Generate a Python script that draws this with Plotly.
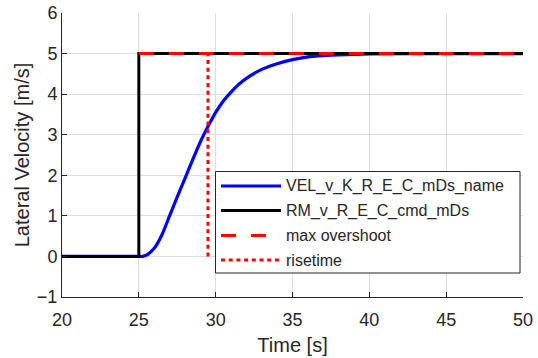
import plotly.graph_objects as go

# ---- data ----
vel_t = [20, 25, 25.25, 25.5, 26, 26.5, 27, 27.5, 28, 28.5, 29, 29.5, 30, 30.5, 31,
         31.5, 32, 33, 34, 35, 36, 37, 38, 40, 45, 50]
vel_y = [0, 0, 0, 0.03, 0.2, 0.53, 1.0, 1.47, 1.92, 2.38, 2.82, 3.2, 3.55, 3.83, 4.05,
         4.24, 4.39, 4.61, 4.75, 4.85, 4.92, 4.95, 4.97, 4.99, 5.0, 5.0]

cmd_t = [20, 25, 25, 50]
cmd_y = [0, 0, 5, 5]

overshoot_t = [25, 50]
overshoot_y = [5, 5]

rise_t = [29.5, 29.5]
rise_y = [0, 5]

series_names = ["VEL_v_K_R_E_C_mDs_name", "RM_v_R_E_C_cmd_mDs", "max overshoot", "risetime"]
series_colors = ["#0000ff", "#000000", "#ff0000", "#ff0000"]
series_dash = ["solid", "solid", "15px,15px", "4px,3.7px"]

x_ticks = [20, 25, 30, 35, 40, 45, 50]
y_ticks = [-1, 0, 1, 2, 3, 4, 5, 6]

FONT = "Liberation Sans, Arial, Helvetica, sans-serif"
TXT = "#262626"

fig = go.Figure()
fig.add_trace(go.Scatter(x=vel_t, y=vel_y, mode="lines", name=series_names[0],
                         line=dict(color=series_colors[0], width=3.2, shape="spline", smoothing=0.6)))
fig.add_trace(go.Scatter(x=cmd_t, y=cmd_y, mode="lines", name=series_names[1],
                         line=dict(color=series_colors[1], width=3)))
fig.add_trace(go.Scatter(x=overshoot_t, y=overshoot_y, mode="lines", name=series_names[2],
                         line=dict(color=series_colors[2], width=3, dash=series_dash[2])))
fig.add_trace(go.Scatter(x=rise_t, y=rise_y, mode="lines", name=series_names[3],
                         line=dict(color=series_colors[3], width=3, dash=series_dash[3])))

# plot area in page pixels
L = 62; R = 523; T = 13; B = 297
def px(xp): return (xp - L) / (R - L)
def py(yp): return (B - yp) / (B - T)

shapes = [dict(type="rect", xref="paper", yref="paper",
               x0=px(215.5), x1=px(520), y0=py(273), y1=py(171.5),
               line=dict(color=TXT, width=1), fillcolor="white", layer="above")]
annotations = []
rows = [186, 210.5, 235.5, 260]
for i, name in enumerate(series_names):
    shapes.append(dict(type="line", xref="paper", yref="paper",
                       x0=px(221), x1=px(281), y0=py(rows[i]), y1=py(rows[i]),
                       line=dict(color=series_colors[i], width=3, dash=series_dash[i]),
                       layer="above"))
    annotations.append(dict(xref="paper", yref="paper", x=px(284), y=py(rows[i]),
                            text=name, showarrow=False, xanchor="left", yanchor="middle",
                            font=dict(family=FONT, size=16, color=TXT)))

fig.update_layout(
    width=538, height=358,
    margin=dict(l=L, r=538 - R, t=T, b=358 - B),
    paper_bgcolor="white", plot_bgcolor="white",
    showlegend=False,
    font=dict(family=FONT, color=TXT),
    shapes=shapes, annotations=annotations,
)
fig.update_xaxes(range=[20, 50], tickvals=x_ticks, ticks="inside", ticklen=5,
                 tickcolor=TXT, showline=True, linecolor=TXT, linewidth=1,
                 showgrid=True, gridcolor="#dedede", gridwidth=1, zeroline=False,
                 automargin=False, ticklabeloverflow="allow", ticklabelstandoff=6,
                 tickfont=dict(size=18, color=TXT, family=FONT),
                 title=dict(text="Time [s]", font=dict(size=20, color=TXT, family=FONT), standoff=9))
fig.update_yaxes(range=[-1, 6], tickvals=y_ticks, ticks="inside", ticklen=5,
                 tickcolor=TXT, showline=True, linecolor=TXT, linewidth=1,
                 showgrid=True, gridcolor="#dedede", gridwidth=1, zeroline=False,
                 automargin=False, ticklabeloverflow="allow",
                 tickfont=dict(size=18, color=TXT, family=FONT),
                 title=dict(text="Lateral Velocity [m/s]", font=dict(size=20, color=TXT, family=FONT), standoff=1))

fig.write_html("out.html", config={"displayModeBar": False},
               post_script="document.body.style.margin='0';document.body.style.overflow='hidden';")
